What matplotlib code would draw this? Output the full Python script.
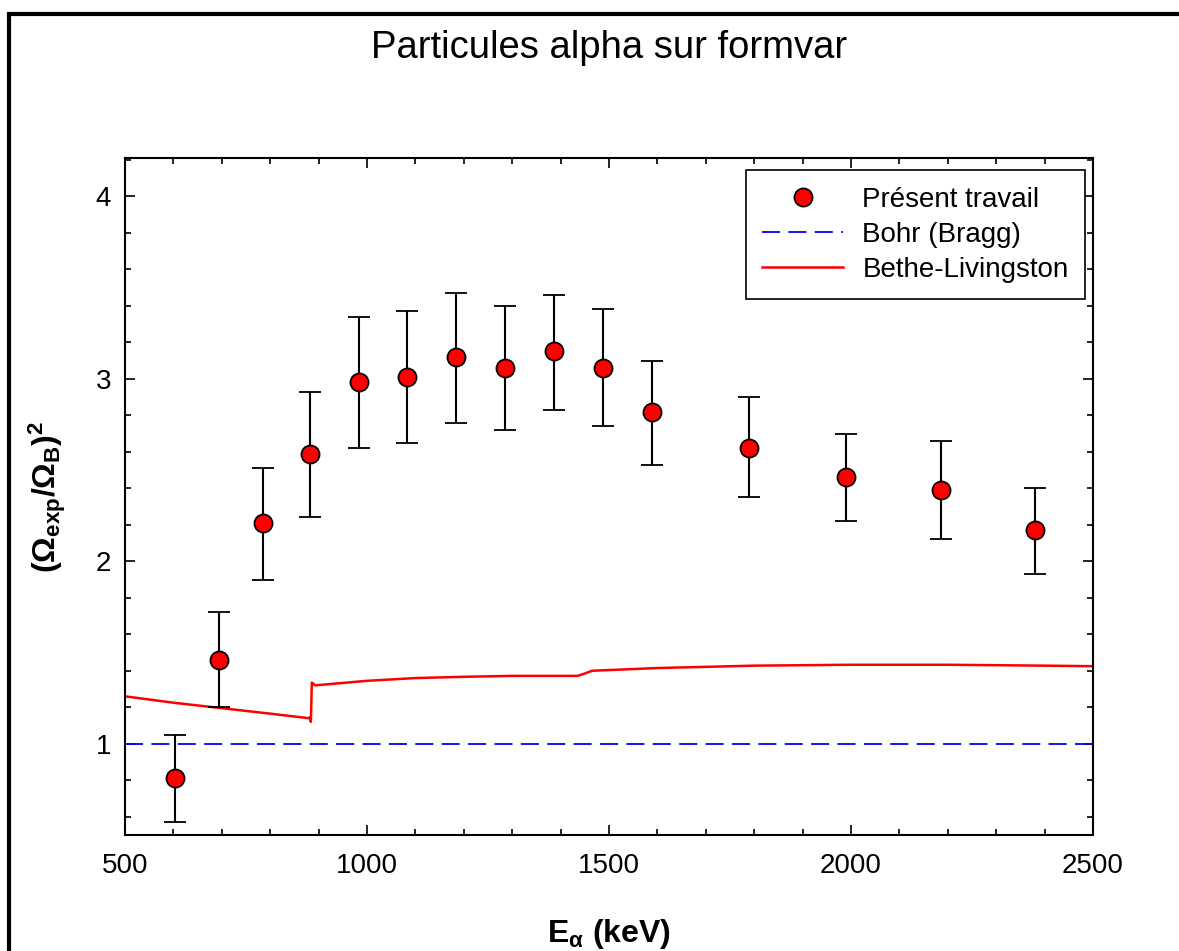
import numpy as np
import matplotlib.pyplot as plt
from matplotlib.patches import Rectangle
from matplotlib.lines import Line2D

plt.rcParams['font.family'] = ['Liberation Sans', 'DejaVu Sans']
plt.rcParams['mathtext.fontset'] = 'custom'
plt.rcParams['mathtext.rm'] = 'Liberation Sans:bold'
plt.rcParams['mathtext.it'] = 'Liberation Sans:bold'
plt.rcParams['mathtext.bf'] = 'Liberation Sans:bold'
plt.rcParams['lines.scale_dashes'] = False

# Experimental points (present work)
energy = [603, 694, 785, 882, 983, 1083, 1184, 1285, 1386, 1488, 1589, 1789, 1990, 2186, 2380]
ratio = [0.81, 1.46, 2.21, 2.59, 2.98, 3.01, 3.12, 3.06, 3.15, 3.06, 2.82, 2.62, 2.46, 2.39, 2.17]
err_low = [0.24, 0.26, 0.31, 0.35, 0.36, 0.36, 0.36, 0.34, 0.32, 0.32, 0.29, 0.27, 0.24, 0.27, 0.24]
err_high = [0.24, 0.26, 0.30, 0.34, 0.36, 0.36, 0.35, 0.34, 0.31, 0.32, 0.28, 0.28, 0.24, 0.27, 0.23]

# Bohr (Bragg) reference
bohr_x = [500, 2500]
bohr_y = [1.0, 1.0]

# Bethe-Livingston curve
bl_x = [500, 600, 700, 800, 880, 882, 884, 886, 893, 1000, 1100, 1200, 1300,
        1435, 1450, 1465, 1600, 1800, 2000, 2200, 2400, 2500]
bl_y = [1.26, 1.225, 1.195, 1.165, 1.14, 1.145, 1.12, 1.335, 1.32, 1.345, 1.36, 1.367, 1.372,
        1.372, 1.385, 1.40, 1.415, 1.428, 1.433, 1.433, 1.428, 1.425]

fig = plt.figure(figsize=(11.79, 9.51), dpi=100)
ax = fig.add_axes([125 / 1179, 1 - 835 / 951, 968 / 1179, 677 / 951])

# outer frame (only left and top edges visible)
fig.patches.append(Rectangle((9.5 / 1179, -0.1), 1.2, 1 - 14 / 951 + 0.1,
                             transform=fig.transFigure, fill=False,
                             edgecolor='black', linewidth=3, clip_on=False))

ax.errorbar(energy, ratio, yerr=[err_low, err_high], fmt='o', color='black',
            ecolor='black', elinewidth=1.5, capsize=8, capthick=1.5,
            markersize=13, markerfacecolor='red', markeredgecolor='black',
            markeredgewidth=1.3, zorder=3)
bohr_line, = ax.plot(bohr_x, bohr_y, color='#0000ff', linewidth=1.3, dashes=(13, 6))
bl_line, = ax.plot(bl_x, bl_y, color='#ff0000', linewidth=1.8)

ax.set_xlim(500, 2500)
ax.set_ylim(0.5, 4.21)
ax.set_xticks([500, 1000, 1500, 2000, 2500])
ax.set_xticks(np.arange(500, 2501, 100), minor=True)
ax.set_yticks([1, 2, 3, 4])
ax.set_yticks(np.arange(0.6, 4.21, 0.2), minor=True)
ax.tick_params(which='both', direction='in', top=True, right=True, width=1.2,
               labelsize=20)
ax.tick_params(which='major', length=7)
ax.tick_params(which='minor', length=4.5)
ax.tick_params(axis='x', which='major', pad=13)
ax.tick_params(axis='y', which='major', pad=10)
for s in ax.spines.values():
    s.set_linewidth(1.5)

ax.set_xlabel(r'E$_\alpha$ (keV)', fontsize=23, fontweight='bold', labelpad=27)
ax.set_ylabel(r'$(Ω_{exp}/Ω_B)^2$', fontsize=23, fontweight='bold', labelpad=20)
fig.text(609 / 1179, 1 - 48 / 951, 'Particules alpha sur formvar', fontsize=27.5,
         ha='center', va='center')

pt_handle = Line2D([], [], linestyle='none', marker='o', markersize=13,
                   markerfacecolor='red', markeredgecolor='black', markeredgewidth=1.3)
leg = ax.legend([pt_handle, bohr_line, bl_line],
                ['Présent travail', 'Bohr (Bragg)', 'Bethe-Livingston'],
                loc='upper right', bbox_to_anchor=(0.992, 0.982), borderaxespad=0,
                fontsize=20, frameon=True, fancybox=False, edgecolor='black',
                framealpha=1, handlelength=2.9, handletextpad=0.7,
                labelspacing=0.32, borderpad=0.6)
leg.get_frame().set_linewidth(1.2)

fig.savefig('out.png', dpi=100)
